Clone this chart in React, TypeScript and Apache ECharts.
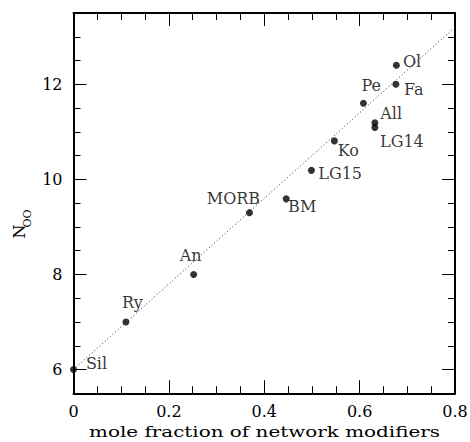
import React, { useEffect, useRef } from "react";
import * as echarts from "echarts";

// ---- data ----
const pointNames = ["Sil", "Ry", "An", "MORB", "BM", "LG15", "Ko", "Pe", "All", "LG14", "Fa", "Ol"];
const moleFraction = [0.0, 0.11, 0.252, 0.369, 0.446, 0.499, 0.547, 0.608, 0.632, 0.632, 0.676, 0.677];
const nOO = [6.0, 7.0, 8.0, 9.3, 9.59, 10.19, 10.81, 11.6, 11.19, 11.09, 12.0, 12.4];
const fitX = [0.0, 0.8];
const fitY = [6.0, 13.2];
const xTickLabels = [0, 0.2, 0.4, 0.6, 0.8];
const yTickLabels = [6, 8, 10, 12];
const xTitle = "mole fraction of network modifiers";

// ---- styling (label offsets from point centre, px) ----
const labelOffsets: Record<string, [number, number]> = {
  Sil: [23, -6],
  Ry: [6.5, -19],
  An: [-3, -19],
  MORB: [-16, -14.5],
  BM: [16, 8],
  LG15: [28.7, 3],
  Ko: [14, 10],
  Pe: [7.7, -18],
  All: [16.3, -9],
  LG14: [27, 14.4],
  Fa: [18, 5],
  Ol: [15.7, -4.2],
};

const FONT = "DejaVu Serif";

export default function App() {
  const ref = useRef<HTMLDivElement>(null);
  useEffect(() => {
    if (!ref.current) return;
    const chart = echarts.init(ref.current, null, { renderer: "svg" });
    const axisLine = { show: true, lineStyle: { color: "#000", width: 2 } };
    const minorTickX = { show: true, splitNumber: 4, length: 7, lineStyle: { color: "#000", width: 1 } };
    const scatterData = pointNames.map((n, i) => ({
      name: n,
      value: [moleFraction[i], nOO[i]],
      label: { offset: labelOffsets[n] },
    }));
    chart.setOption({
      animation: false,
      backgroundColor: "#fff",
      grid: { left: 73.5, right: 15, top: 13, bottom: 48.7, outerBoundsMode: "none", containLabel: false },
      xAxis: [
        {
          type: "value",
          position: "bottom",
          min: 0,
          max: 0.8,
          interval: 0.2,
          axisLine,
          axisTick: { show: true, inside: true, length: 13, lineStyle: { color: "#000", width: 1 } },
          minorTick: minorTickX,
          splitLine: { show: false },
          axisLabel: {
            show: true,
            customValues: xTickLabels,
            formatter: (v: number) => String(Math.round(v * 10) / 10),
            fontFamily: FONT,
            fontSize: 16,
            color: "#000",
            margin: 10,
          },
        },
        {
          type: "value",
          position: "top",
          min: 0,
          max: 0.8,
          interval: 0.2,
          axisLine,
          axisTick: { show: true, inside: true, length: 13, lineStyle: { color: "#000", width: 1 } },
          minorTick: minorTickX,
          splitLine: { show: false },
          axisLabel: { show: false },
        },
      ],
      yAxis: [
        {
          type: "value",
          position: "left",
          min: 5.5,
          max: 13.5,
          interval: 0.5,
          axisLine,
          axisTick: { show: true, inside: true, length: 7, lineStyle: { color: "#000", width: 1 } },
          splitLine: { show: false },
          axisLabel: {
            show: true,
            customValues: yTickLabels,
            formatter: (v: number) => (Math.abs(v % 2) < 1e-9 ? String(v) : ""),
            fontFamily: FONT,
            fontSize: 16,
            color: "#000",
            margin: 11,
          },
        },
        {
          type: "value",
          position: "left",
          min: 5.5,
          max: 13.5,
          axisLine: { show: false },
          axisTick: { show: true, inside: true, length: 13, customValues: yTickLabels, lineStyle: { color: "#000", width: 1 } },
          splitLine: { show: false },
          axisLabel: { show: false },
        },
        {
          type: "value",
          position: "right",
          min: 5.5,
          max: 13.5,
          interval: 0.5,
          axisLine,
          axisTick: { show: true, inside: true, length: 7, lineStyle: { color: "#000", width: 1 } },
          splitLine: { show: false },
          axisLabel: { show: false },
        },
        {
          type: "value",
          position: "right",
          min: 5.5,
          max: 13.5,
          axisLine: { show: false },
          axisTick: { show: true, inside: true, length: 13, customValues: yTickLabels, lineStyle: { color: "#000", width: 1 } },
          splitLine: { show: false },
          axisLabel: { show: false },
        },
      ],
      series: [
        {
          type: "line",
          data: fitX.map((x, i) => [x, fitY[i]]),
          symbol: "none",
          lineStyle: { color: "#333", width: 1, type: [1, 2.5] },
          silent: true,
          z: 1,
        },
        {
          type: "scatter",
          data: scatterData,
          symbol: "circle",
          symbolSize: 7,
          itemStyle: { color: "#000" },
          label: {
            show: true,
            position: "inside",
            align: "center",
            verticalAlign: "middle",
            formatter: (p: any) => p.name,
            fontFamily: FONT,
            fontSize: 16,
            color: "#000",
          },
          z: 3,
        },
      ],
      graphic: [
        {
          type: "text",
          x: 264.5,
          y: 432,
          scaleX: 1.33,
          style: { text: xTitle, fontFamily: FONT, fontSize: 15, fill: "#000", align: "center", verticalAlign: "middle" },
        },
        {
          type: "text",
          x: 19,
          y: 231.5,
          rotation: Math.PI / 2,
          style: { text: "N", fontFamily: FONT, fontSize: 16, fill: "#000", align: "center", verticalAlign: "middle" },
        },
        {
          type: "text",
          x: 27.5,
          y: 218.5,
          rotation: Math.PI / 2,
          style: { text: "OO", fontFamily: FONT, fontSize: 11, fill: "#000", align: "center", verticalAlign: "middle" },
        },
      ],
    });
    return () => chart.dispose();
  }, []);
  return (
    <div
      ref={ref}
      style={{ position: "fixed", left: 0, top: 0, width: 470, height: 442 }}
    />
  );
}
